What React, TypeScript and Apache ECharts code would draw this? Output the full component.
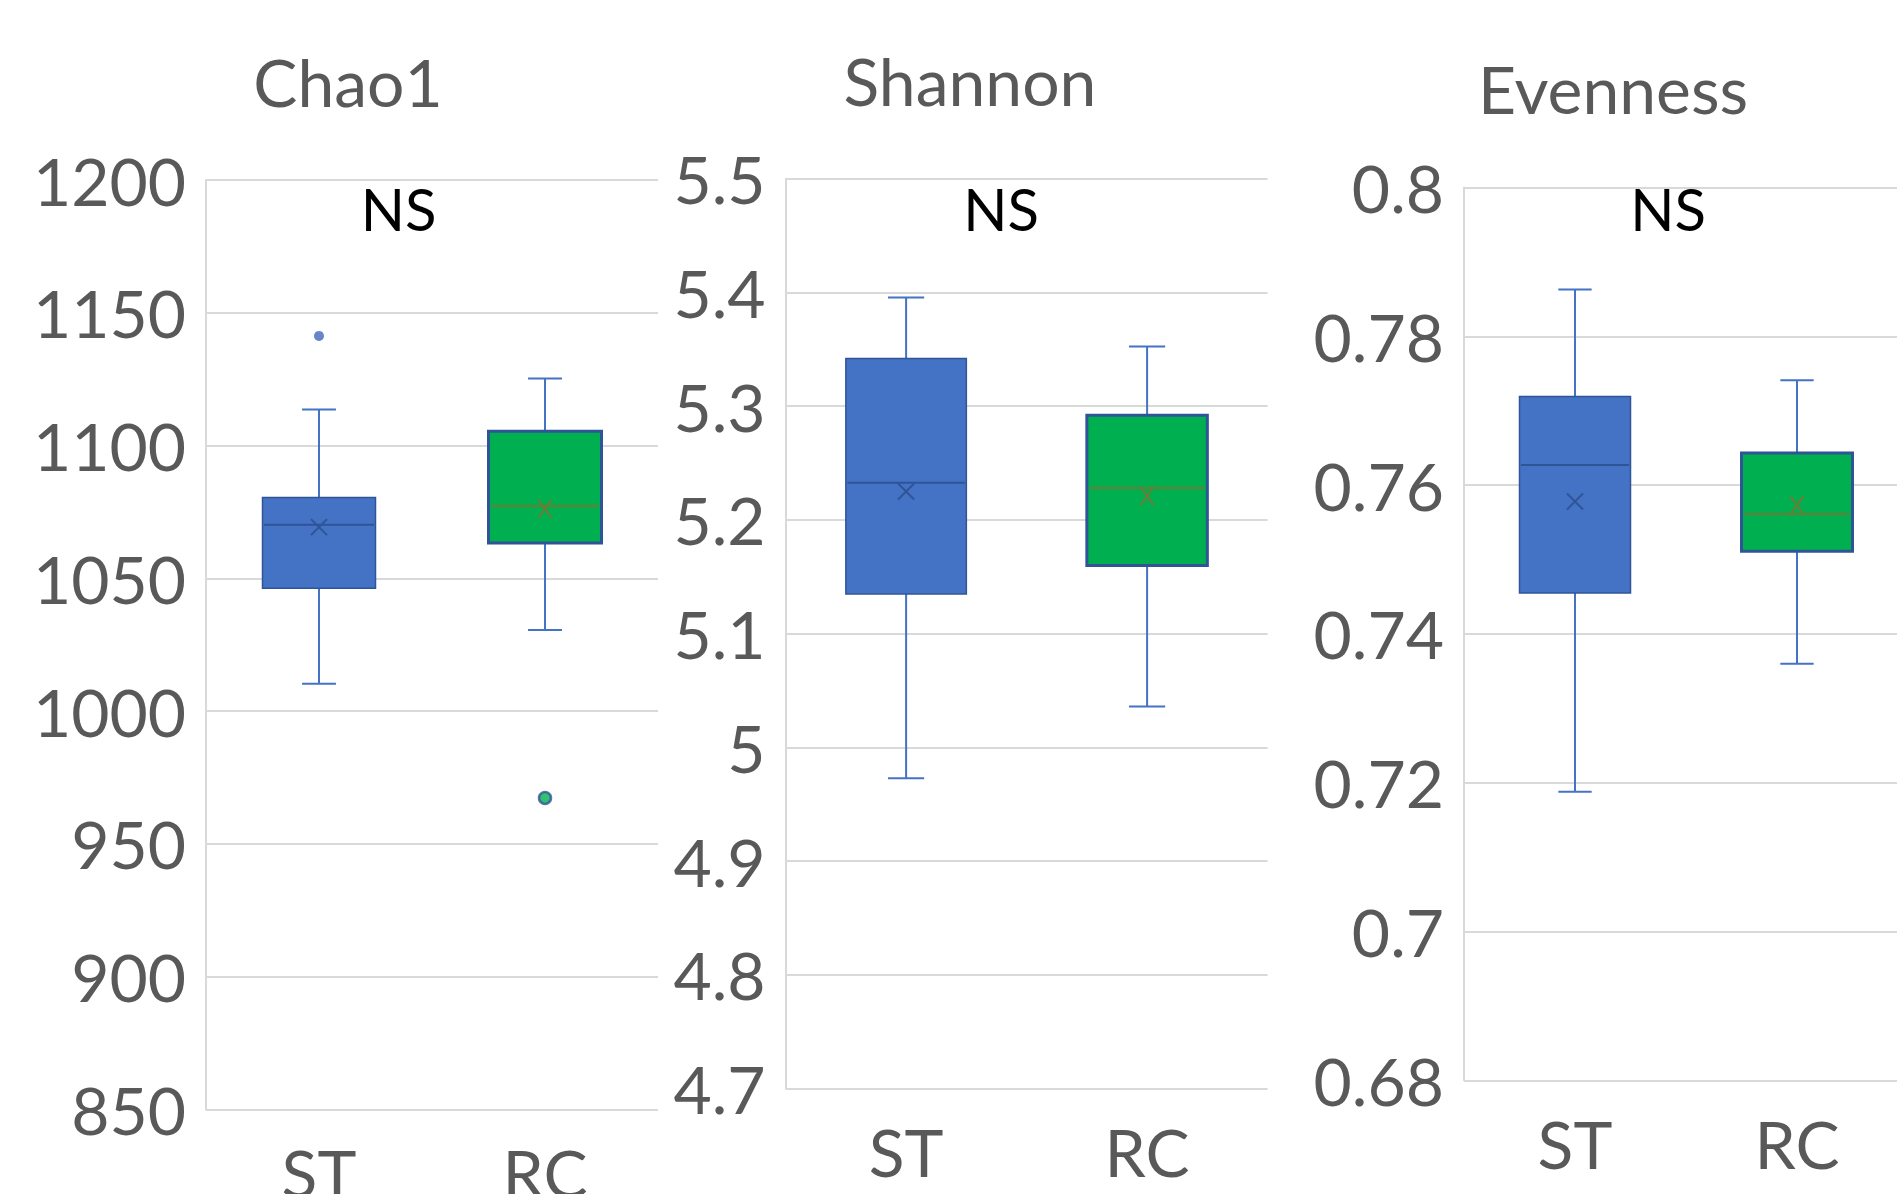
import React, { useEffect, useRef } from 'react';
import * as echarts from 'echarts';

// ---------- data ----------
const categories = ['ST', 'RC'];
const panelTitles = ['Chao1', 'Shannon', 'Evenness'];
const significance = ['NS', 'NS', 'NS'];

// five-number summaries: [min whisker, Q1, median, Q3, max whisker]
const chao1ST = [1010.3, 1046.3, 1070.2, 1080.4, 1113.6];
const chao1RC = [1030.6, 1063.3, 1077.2, 1105.4, 1125.3];
const chao1Mean = [1069.3, 1076.2];
const chao1Outliers = [[0, 1141.3], [1, 967.3]];
const chao1Axis = [850, 1200, 50]; // min, max, interval

const shannonST = [4.973, 5.135, 5.2326, 5.342, 5.3955];
const shannonRC = [5.036, 5.16, 5.228, 5.292, 5.3525];
const shannonMean = [5.225, 5.221];
const shannonOutliers: number[][] = [];
const shannonAxis = [4.7, 5.5, 0.1];

const evennessST = [0.7188, 0.7455, 0.7627, 0.7719, 0.7863];
const evennessRC = [0.736, 0.7511, 0.7561, 0.7643, 0.7741];
const evennessMean = [0.7578, 0.7573];
const evennessOutliers: number[][] = [];
const evennessAxis = [0.68, 0.8, 0.02];

// ---------- styles / layout ----------
const FONT = 'Lato, "Open Sans", sans-serif';
const AXIS_GREY = '#595959';
const GRID_GREY = '#D9D9D9';
const groupStyles = [
  { fill: '#4472C4', border: '#2F5597', borderWidth: 1.5, median: '#2F5597', mean: '#2F5597', meanW: 8, meanH: 8 },
  { fill: '#00B050', border: '#2F5597', borderWidth: 3, median: '#6F7A35', mean: '#6F7A35', meanW: 6.5, meanH: 9 },
];
const WHISKER = '#4472C4';

const grids = [
  { left: 206, top: 180, width: 452, height: 929.5 },
  { left: 785.6, top: 178.7, width: 482, height: 910 },
  { left: 1464, top: 187.5, width: 444, height: 892.8 },
];
const titlePos = [[348, 81], [970, 80], [1613, 88]];
const nsPos = [[398.5, 208.5], [1001, 208.5], [1668, 208.5]];

const panels = [
  { st: chao1ST, rc: chao1RC, mean: chao1Mean, outliers: chao1Outliers, axis: chao1Axis },
  { st: shannonST, rc: shannonRC, mean: shannonMean, outliers: shannonOutliers, axis: shannonAxis },
  { st: evennessST, rc: evennessRC, mean: evennessMean, outliers: evennessOutliers, axis: evennessAxis },
];

const renderBox = (params: any, api: any) => {
  const idx = api.value(0);
  const s = groupStyles[idx];
  const pt = (dim: number) => api.coord([idx, api.value(dim)]);
  const [cx, yMin] = pt(1);
  const yQ1 = pt(2)[1];
  const yMed = pt(3)[1];
  const yQ3 = pt(4)[1];
  const yMax = pt(5)[1];
  const yMean = pt(6)[1];
  const band = api.size([1, 0])[0];
  const bw = band * 0.5;
  const cw = band * 0.15;
  const wl = { stroke: WHISKER, lineWidth: 2 };
  return {
    type: 'group',
    children: [
      { type: 'line', shape: { x1: cx, y1: yMax, x2: cx, y2: yQ3 }, style: wl },
      { type: 'line', shape: { x1: cx, y1: yQ1, x2: cx, y2: yMin }, style: wl },
      { type: 'line', shape: { x1: cx - cw / 2, y1: yMax, x2: cx + cw / 2, y2: yMax }, style: wl },
      { type: 'line', shape: { x1: cx - cw / 2, y1: yMin, x2: cx + cw / 2, y2: yMin }, style: wl },
      {
        type: 'rect',
        shape: { x: cx - bw / 2, y: yQ3, width: bw, height: yQ1 - yQ3 },
        style: { fill: s.fill, stroke: s.border, lineWidth: s.borderWidth },
      },
      {
        type: 'line',
        shape: { x1: cx - bw / 2 + s.borderWidth, y1: yMed, x2: cx + bw / 2 - s.borderWidth, y2: yMed },
        style: { stroke: s.median, lineWidth: 2 },
      },
      {
        type: 'line',
        shape: { x1: cx - s.meanW, y1: yMean - s.meanH, x2: cx + s.meanW, y2: yMean + s.meanH },
        style: { stroke: s.mean, lineWidth: 2 },
      },
      {
        type: 'line',
        shape: { x1: cx + s.meanW, y1: yMean - s.meanH, x2: cx - s.meanW, y2: yMean + s.meanH },
        style: { stroke: s.mean, lineWidth: 2 },
      },
    ],
  };
};

export default function App() {
  const ref = useRef<HTMLDivElement>(null);
  useEffect(() => {
    if (!ref.current) return;
    const chart = echarts.init(ref.current, null, { renderer: 'svg' });

    const series: any[] = [];
    panels.forEach((p, i) => {
      series.push({
        type: 'custom',
        xAxisIndex: i,
        yAxisIndex: i,
        renderItem: renderBox,
        data: [
          [0, ...p.st, p.mean[0]],
          [1, ...p.rc, p.mean[1]],
        ],
        encode: { x: 0, y: [1, 2, 3, 4, 5, 6] },
        z: 3,
      });
      series.push({
        type: 'scatter',
        xAxisIndex: i,
        yAxisIndex: i,
        z: 4,
        data: p.outliers.map((o) => ({
          value: o,
          symbolSize: o[0] === 0 ? 10 : 12,
          itemStyle:
            o[0] === 0
              ? { color: '#3F69B8', borderWidth: 0 }
              : { color: '#00B050', borderColor: '#2F5597', borderWidth: 2.5 },
        })),
      });
    });

    const graphic: any[] = [];
    panelTitles.forEach((t, i) => {
      graphic.push({
        type: 'text',
        x: titlePos[i][0],
        y: titlePos[i][1],
        style: { text: t, fontSize: 66, fontFamily: FONT, fill: AXIS_GREY, align: 'center', verticalAlign: 'middle' },
      });
      graphic.push({
        type: 'text',
        x: nsPos[i][0],
        y: nsPos[i][1],
        style: { text: significance[i], fontSize: 58, fontFamily: FONT, fill: '#000000', align: 'center', verticalAlign: 'middle' },
      });
    });

    chart.setOption({
      animation: false,
      backgroundColor: '#ffffff',
      grid: grids.map((g) => ({ ...g, outerBoundsMode: 'none', containLabel: false })),
      xAxis: panels.map((_, i) => ({
        type: 'category',
        gridIndex: i,
        data: categories,
        boundaryGap: true,
        axisLine: { show: false },
        axisTick: { show: false },
        splitLine: { show: false },
        axisLabel: { fontSize: 66, fontFamily: FONT, color: AXIS_GREY, margin: 30 },
      })),
      yAxis: panels.map((p, i) => ({
        type: 'value',
        gridIndex: i,
        min: p.axis[0],
        max: p.axis[1],
        interval: p.axis[2],
        axisLine: { show: true, lineStyle: { color: GRID_GREY, width: 2 } },
        axisTick: { show: false },
        splitLine: { show: true, lineStyle: { color: GRID_GREY, width: 2 } },
        axisLabel: {
          fontSize: 66,
          fontFamily: FONT,
          color: AXIS_GREY,
          margin: 20,
          hideOverlap: false,
          formatter: (v: number) => String(Number(v.toFixed(4))),
        },
      })),
      series,
      graphic,
    });
    return () => chart.dispose();
  }, []);
  return (
    <div
      ref={ref}
      style={{ position: 'fixed', left: 0, top: 0, width: 1897, height: 1194, background: '#fff' }}
    />
  );
}
